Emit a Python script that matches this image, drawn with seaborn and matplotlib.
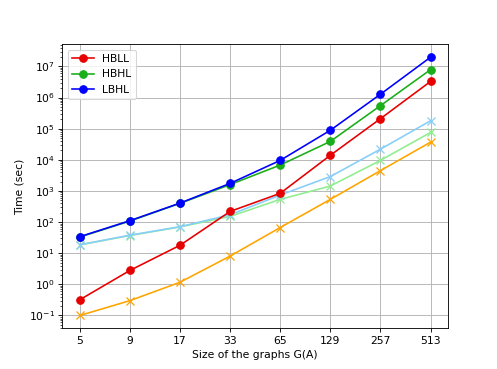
import matplotlib
matplotlib.use("Agg")
import matplotlib.pyplot as plt
import matplotlib.ticker as mticker
import seaborn as sns
import pandas as pd
import numpy as np

sizes = ["5", "9", "17", "33", "65", "129", "257", "513"]
hbll = [0.32, 2.8, 18, 220, 840, 1.4e4, 2.1e5, 3.3e6]
hbhl = [33, 108, 400, 1600, 6800, 3.9e4, 5.5e5, 7.9e6]
lbhl = [34, 111, 408, 1750, 9600, 8.9e4, 1.28e6, 1.98e7]
s_sky = [18.7, 38, 71, 172, 740, 2900, 2.2e4, 1.8e5]
s_lgreen = [18.5, 37, 70, 152, 537, 1440, 9600, 7.6e4]
s_orange = [0.1, 0.3, 1.17, 8.1, 67, 537, 4500, 3.7e4]

fig, ax = plt.subplots(figsize=(6.4, 4.743), dpi=77.8)
x = np.arange(len(sizes))

styles = [
    ("HBLL", hbll, "#e60000", "o", True),
    ("HBHL", hbhl, "#1aae1a", "o", True),
    ("LBHL", lbhl, "blue", "o", True),
    ("sky", s_sky, "lightskyblue", "x", False),
    ("lgreen", s_lgreen, "lightgreen", "x", False),
    ("orange", s_orange, "orange", "x", False),
]
order = [4, 3, 5, 0, 1, 2]
for i in order:
    name, vals, col, mk, lab = styles[i]
    df = pd.DataFrame({"x": x, "y": vals})
    sns.lineplot(data=df, x="x", y="y", ax=ax, color=col, marker=mk,
                 markersize=7, markeredgecolor=col,
                 markeredgewidth=1.2 if mk == "x" else 1.0,
                 linewidth=1.5, label=name if lab else None, zorder=3 if lab else 2)

ax.set_yscale("log")
ax.set_xticks(x)
ax.set_xticklabels(sizes)
ax.grid(True, which="major")
ax.set_axisbelow(True)
ax.set_xlabel("Size of the graphs G(A)")
ax.set_ylabel("Time (sec)")
ax.set_xlim(-0.35, 7.35)
ax.set_yticks([10.0**k for k in range(-1, 8)])
ax.yaxis.set_minor_locator(mticker.LogLocator(base=10, subs=np.arange(2, 10), numticks=100))
ax.yaxis.set_minor_formatter(mticker.NullFormatter())

h, l = ax.get_legend_handles_labels()
mp = dict(zip(l, h))
ax.legend([mp["HBLL"], mp["HBHL"], mp["LBHL"]], ["HBLL", "HBHL", "LBHL"], loc="upper left")

fig.savefig("out.png", dpi=77.8)
